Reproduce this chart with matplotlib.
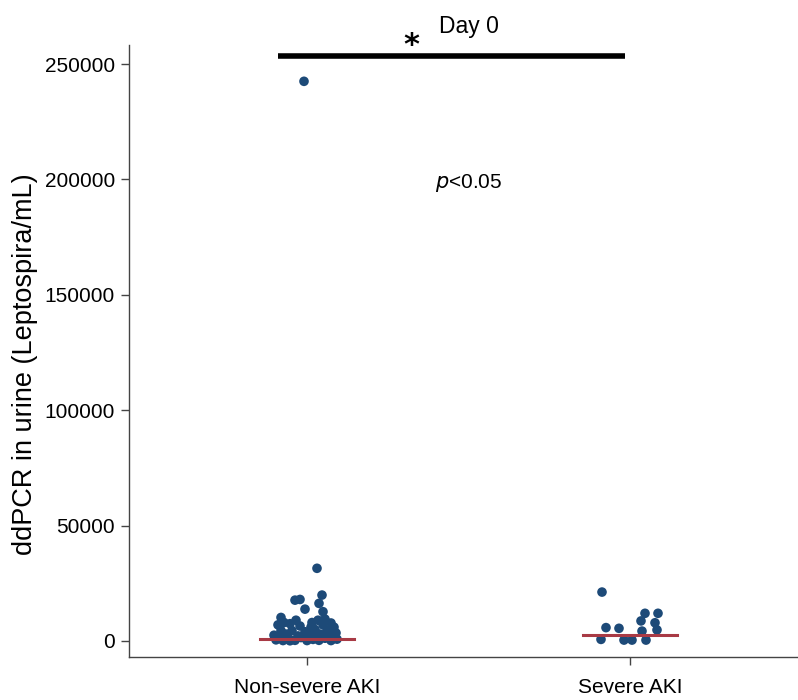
import matplotlib
matplotlib.use("Agg")
import matplotlib.pyplot as plt

categories = ["Non-severe AKI", "Severe AKI"]

nonsevere_values = [242500, 31500, 17700, 18000, 19900, 16300, 13800, 12700, 10200,
                    8000, 7000, 7500, 9000, 6500, 8000, 5000, 9000, 9500, 7800, 6000,
                    3500, 3000, 2500, 4000, 4500, 3000, 1800, 500, 200, 900, 300, 1500,
                    200, 700, 300, 1200, 200, 800, 4500, 2200, 4500, 100, 1800, 2800,
                    1000, 2500, 6000, 7000]
nonsevere_xpix = [304, 317, 295, 300, 322, 319, 305, 323, 281,
                  284, 278, 290, 296, 300, 312, 315, 318, 325, 331, 334,
                  336, 320, 310, 305, 292, 286, 280, 276, 283, 289, 295, 301,
                  307, 313, 319, 325, 331, 337, 281, 298, 327, 290, 316, 329,
                  333, 274, 311, 323]

severe_values = [21200, 5800, 700, 5500, 400, 400, 8700, 12000, 4300, 400, 7900, 12000, 4800]
severe_xpix = [602, 606, 601, 619, 624, 632, 641, 645, 642, 646, 655, 658, 657]

medians = [870, 2600]
p_text = "<0.05"

fam = ["Liberation Sans", "DejaVu Sans"]
plt.rcParams["font.family"] = fam

fig = plt.figure(figsize=(7.98, 7.0), dpi=100)
# axes: left 129px, right 797px, top 45px, bottom 657px
ax = fig.add_axes([129 / 798, 1 - 657 / 700, (797 - 129) / 798, (657 - 45) / 700])

px_per_unit = 323.0
def jit(xpix, center):
    return [center + (x - (307 + center * px_per_unit)) / px_per_unit for x in xpix]

dot_color = "#1d4a78"
line_color = "#a83a45"

for i, (vals, xp) in enumerate([(nonsevere_values, nonsevere_xpix), (severe_values, severe_xpix)]):
    xs = jit(xp, i)
    ax.scatter(xs, vals, s=48, color=dot_color, edgecolors="none", zorder=3)
    ax.plot([i - 0.145, i + 0.145], [medians[i], medians[i]], color=line_color, lw=2.2, zorder=4)

ax.set_xlim((129 - 307) / px_per_unit, (797 - 307) / px_per_unit)
ymin = -(657 - 641) * 250000 / 577
ymax = 250000 + (64 - 45) * 250000 / 577
ax.set_ylim(ymin, ymax)

ax.set_xticks([0, 1])
ax.set_xticklabels(categories, fontsize=15)
ax.set_yticks([0, 50000, 100000, 150000, 200000, 250000])
ax.set_yticklabels(["0", "50000", "100000", "150000", "200000", "250000"], fontsize=15)
ax.set_ylabel("ddPCR in urine (Leptospira/mL)", fontsize=19.5, va="center")
ax.yaxis.set_label_coords(-(129 - 25) / 668, (657 - 364) / 612)

for s in ["top", "right"]:
    ax.spines[s].set_visible(False)
for s in ["left", "bottom"]:
    ax.spines[s].set_color("#444444")
    ax.spines[s].set_linewidth(1.0)
ax.tick_params(axis="both", direction="out", length=6, width=1, color="#444444", labelcolor="black")
ax.tick_params(axis="y", pad=4)
ax.tick_params(axis="x", pad=9)

# significance bar
ybar = (641 - 56) * 250000 / 577
ax.plot([(278 - 307) / px_per_unit, (625 - 307) / px_per_unit], [ybar, ybar],
        color="black", lw=4, clip_on=False, solid_capstyle="butt")
ax.text((411 - 307) / px_per_unit, (641 - 46) * 250000 / 577, "*", fontsize=22,
        ha="center", va="center", clip_on=False, fontweight="bold", family=["DejaVu Sans"])
ax.text((469 - 307) / px_per_unit, (641 - 27) * 250000 / 577, "Day 0", fontsize=16.5,
        ha="center", va="center", clip_on=False)
ax.text((469 - 307) / px_per_unit, (641 - 183) * 250000 / 577, r"$\it{p}$" + p_text,
        fontsize=15, ha="center", va="center")

fig.savefig("out.png", dpi=100)
